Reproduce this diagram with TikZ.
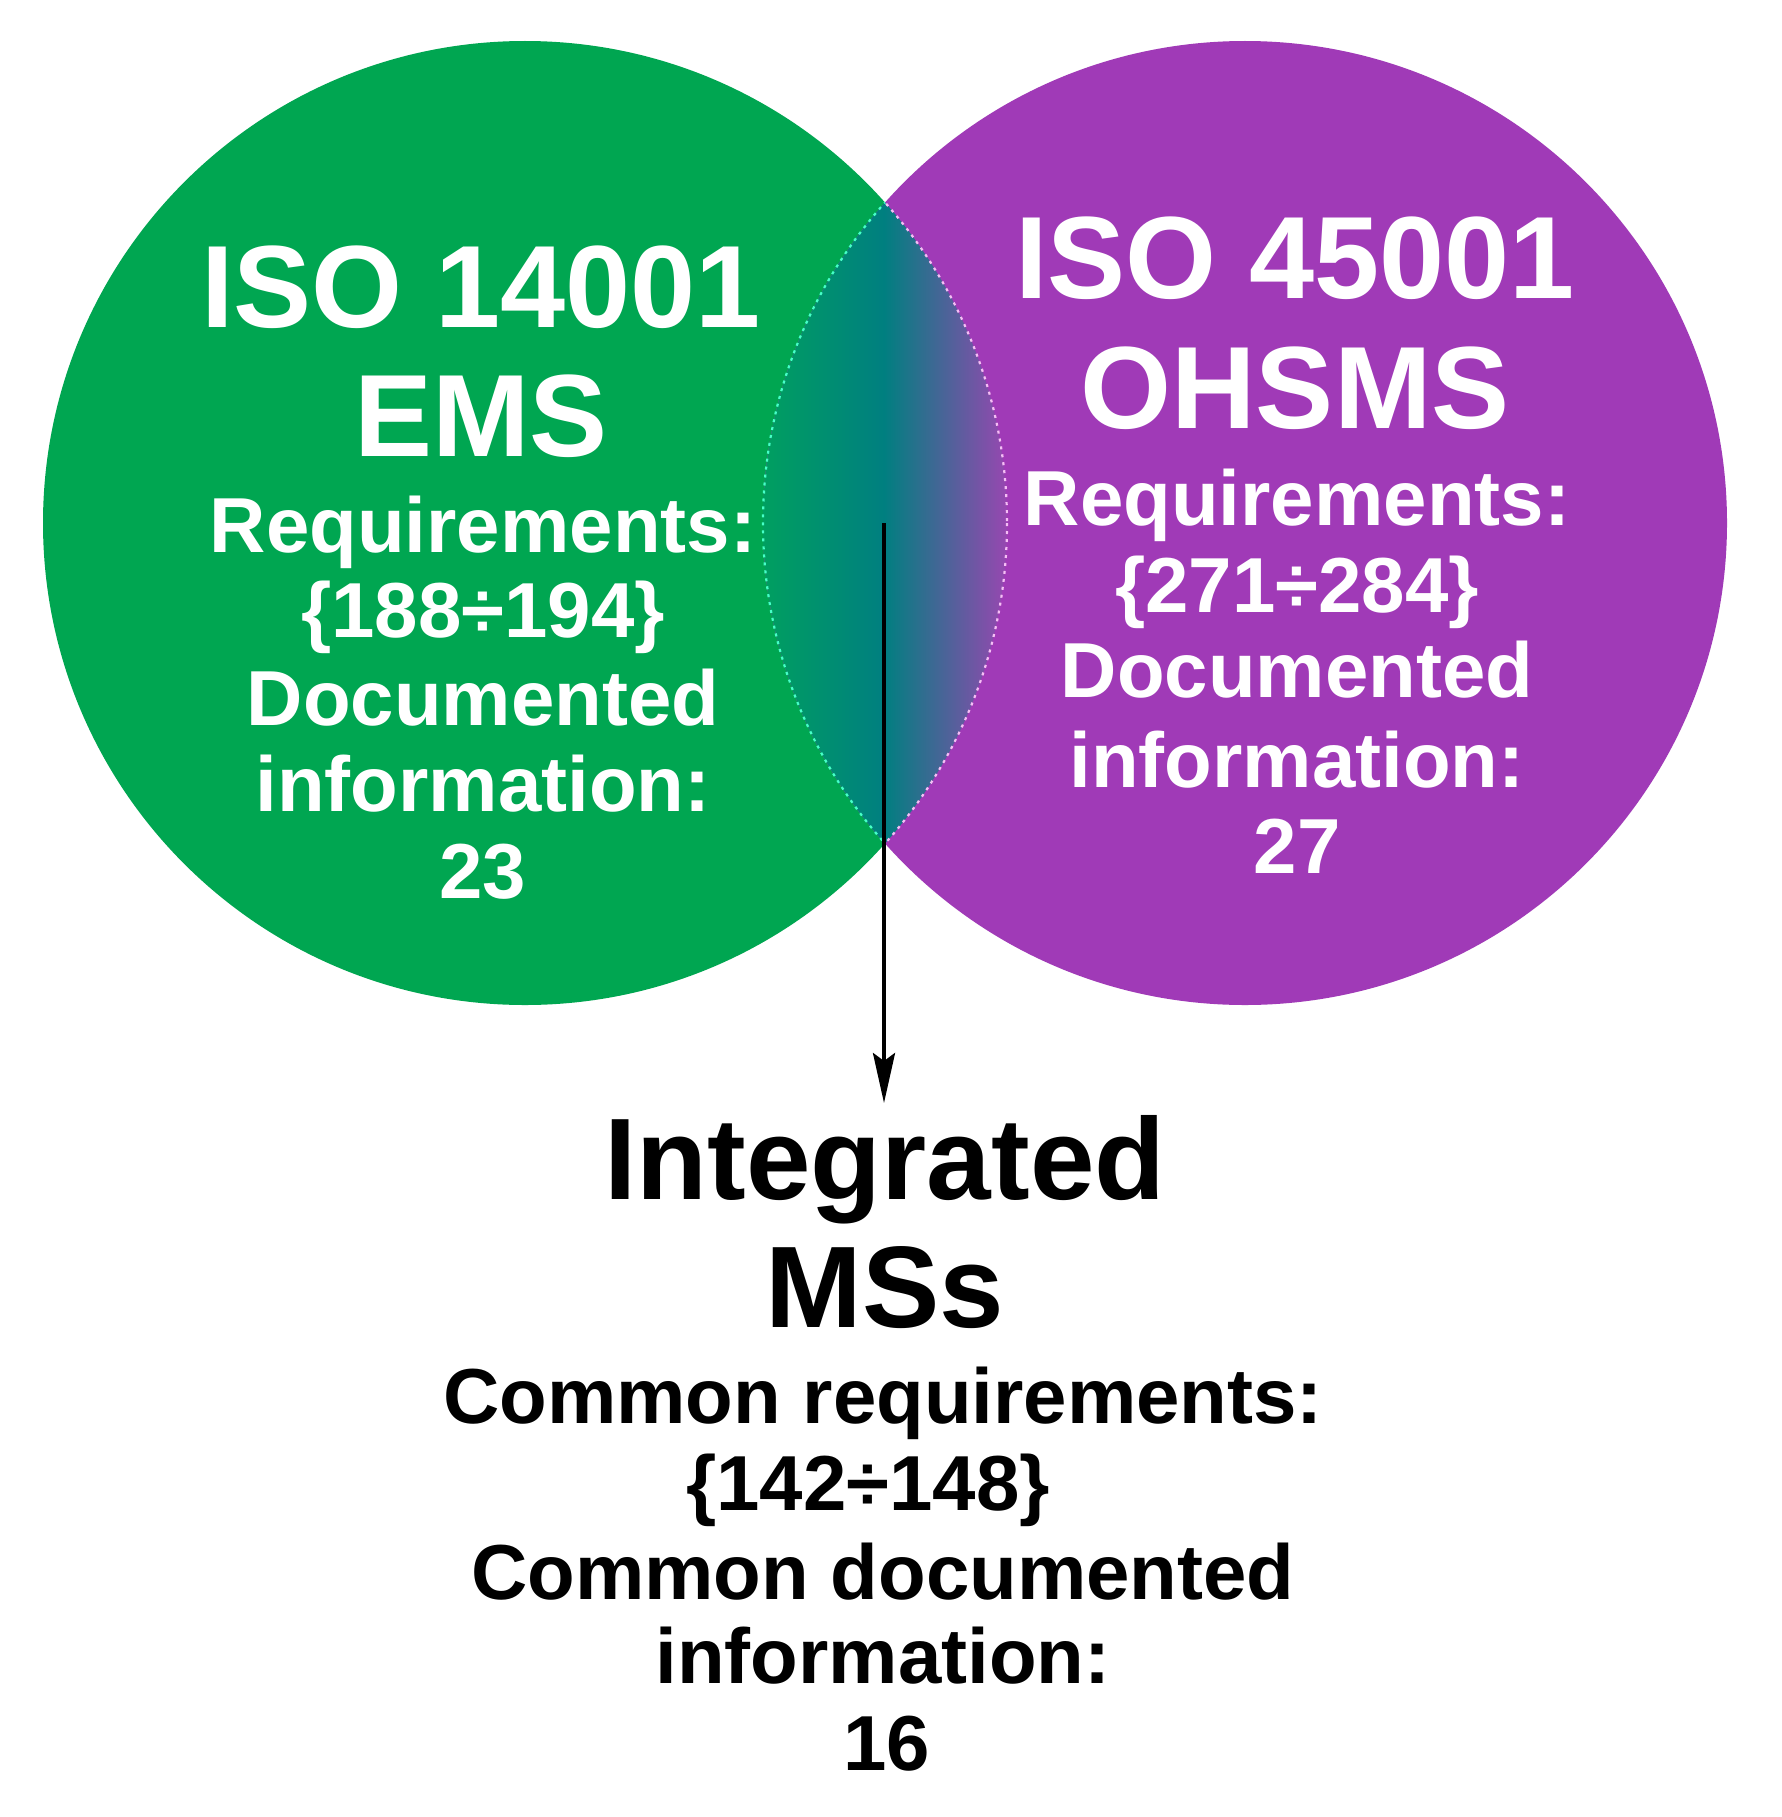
\documentclass[tikz,border=0pt]{standalone}
\usepackage{fontspec}
\setmainfont{Liberation Sans}
\usetikzlibrary{arrows.meta}
\definecolor{emsgreen}{RGB}{0,166,81}
\definecolor{lensgreen}{RGB}{0,160,95}
\definecolor{ohspurple}{RGB}{160,58,183}
\definecolor{overteal}{RGB}{0,127,128}
\definecolor{lenspurple}{RGB}{155,70,178}
\definecolor{dotcyan}{RGB}{70,255,200}
\definecolor{dotpink}{RGB}{245,190,245}
\begin{document}
\begin{tikzpicture}[x=1pt,y=-1pt,
  bigw/.style={anchor=base, text=white, inner sep=0pt, font=\bfseries\fontsize{117}{117}\selectfont},
  smallw/.style={anchor=base, text=white, inner sep=0pt, font=\bfseries\fontsize{78}{78}\selectfont},
  bigk/.style={anchor=base, text=black, inner sep=0pt, font=\bfseries\fontsize{116}{116}\selectfont},
  smallk/.style={anchor=base, text=black, inner sep=0pt, font=\bfseries\fontsize{78}{78}\selectfont},
  dotarc/.style={line width=2.2pt, dash pattern=on 3pt off 5pt}]
\useasboundingbox (0,0) rectangle (1782,1817);
\fill[white] (0,0) rectangle (1782,1817);
\coordinate (gc) at (525,523);
\coordinate (pc) at (1245,523);
\fill[emsgreen] (gc) circle[radius=482];
\fill[ohspurple] (pc) circle[radius=482];
% overlap with gradient
\begin{scope}
  \clip (gc) circle[radius=482];
  \clip (pc) circle[radius=482];
  \shade[left color=lensgreen, right color=overteal] (760,30) rectangle (884.5,1020);
  \shade[left color=overteal, right color=lenspurple] (884,30) rectangle (1010,1020);
\end{scope}
% dotted outlines inside the overlap: left arc cyan, right arc pink
\begin{scope}
  \clip (pc) circle[radius=482];
  \draw[dotarc, dotpink] (gc) circle[radius=482];
\end{scope}
\begin{scope}
  \clip (gc) circle[radius=482];
  \draw[dotarc, dotcyan] (pc) circle[radius=482];
\end{scope}
% green texts
\node[bigw]   (g1) at (481,327) {ISO 14001};
\node[bigw]   (g2) at (481,456) {EMS};
\node[smallw] (g3) at (483,552) {Requirements:};
\node[smallw] (g4) at (483,637) {\{188÷194\}};
\node[smallw] (g5) at (483,725) {Documented};
\node[smallw] (g6) at (483,811) {information:};
\node[smallw] (g7) at (483,898) {23};
% purple texts
\node[bigw]   (p1) at (1295,298) {ISO 45001};
\node[bigw]   (p2) at (1295,428) {OHSMS};
\node[smallw] (p3) at (1297,525) {Requirements:};
\node[smallw] (p4) at (1297,612) {\{271÷284\}};
\node[smallw] (p5) at (1297,697) {Documented};
\node[smallw] (p6) at (1297,787) {information:};
\node[smallw] (p7) at (1297,873) {27};
% bottom texts
\node[bigk]   (b1) at (885,1199) {Integrated};
\node[bigk]   (b2) at (885,1327) {MSs};
\node[smallk] (b3) at (883,1423) {Common requirements:};
\node[smallk] (b4) at (868,1510) {\{142÷148\}};
\node[smallk] (b5) at (883,1599) {Common documented};
\node[smallk] (b6) at (883,1683) {information:};
\node[smallk] (b7) at (887,1770) {16};
% arrow
\coordinate (ovl) at (884,523);
\coordinate (tip) at (884,1103);
\draw[line width=4pt, -{Stealth[length=50pt, width=22pt, inset=8pt]}] (ovl) -- (tip);
\end{tikzpicture}
\end{document}
